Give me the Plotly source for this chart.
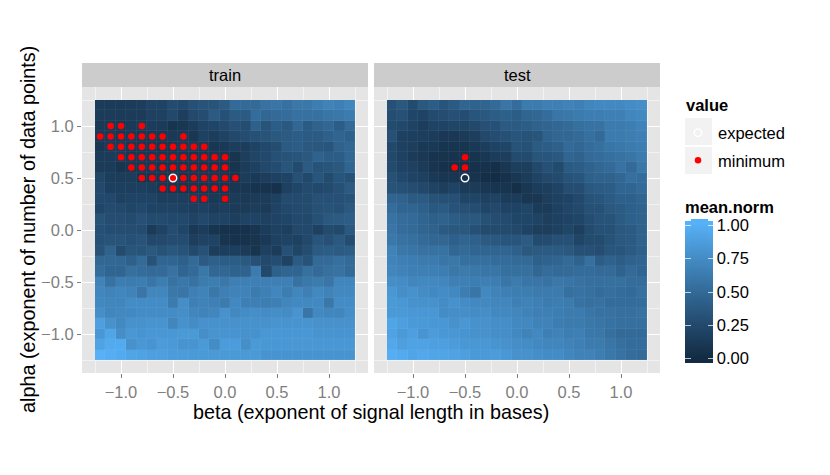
import plotly.graph_objects as go

W, H = 830, 475
betas = [round(-1.2 + i * 0.1, 1) for i in range(25)]
alphas = [round(1.2 - i * 0.1, 1) for i in range(25)]

train_values = [
    [.13,.13,.13,.13,.15,.20,.20,.27,.24,.30,.33,.33,.38,.50,.50,.50,.56,.58,.55,.60,.60,.64,.68,.66,.70],
    [.13,.13,.13,.13,.13,.18,.18,.24,.16,.25,.28,.38,.30,.38,.38,.52,.48,.50,.52,.55,.55,.55,.58,.60,.62],
    [.12,.12,.10,.12,.13,.14,.13,.08,.10,.14,.20,.22,.25,.30,.28,.42,.33,.40,.36,.48,.38,.44,.48,.40,.50],
    [.12,.12,.10,.12,.10,.10,.10,.12,.12,.10,.18,.15,.20,.24,.28,.30,.33,.36,.38,.40,.38,.38,.42,.46,.42],
    [.10,.13,.13,.10,.10,.10,.08,.08,.12,.13,.12,.10,.12,.15,.15,.20,.24,.28,.38,.40,.36,.35,.34,.44,.48],
    [.13,.13,.13,.10,.10,.10,.10,.10,.10,.08,.10,.10,.10,.08,.16,.22,.24,.30,.32,.34,.36,.44,.40,.40,.48],
    [.13,.13,.08,.10,.10,.10,.08,.08,.08,.08,.08,.08,.08,.08,.14,.18,.24,.27,.34,.26,.38,.32,.34,.36,.46],
    [.22,.15,.14,.14,.08,.08,.08,.08,.08,.08,.10,.10,.10,.08,.14,.12,.15,.18,.20,.30,.24,.34,.26,.34,.30],
    [.24,.17,.17,.17,.17,.14,.10,.08,.08,.08,.08,.08,.08,.10,.10,.07,.07,.05,.18,.22,.26,.24,.26,.30,.38],
    [.24,.24,.18,.20,.20,.20,.16,.17,.16,.14,.12,.12,.12,.13,.12,.13,.14,.18,.26,.26,.26,.30,.30,.30,.32],
    [.22,.26,.24,.22,.24,.20,.20,.20,.18,.16,.18,.14,.16,.13,.13,.15,.13,.20,.24,.26,.26,.30,.32,.30,.36],
    [.32,.28,.28,.26,.30,.26,.26,.24,.24,.20,.24,.20,.20,.16,.20,.20,.18,.20,.22,.25,.24,.30,.36,.38,.40],
    [.30,.28,.28,.28,.27,.13,.20,.28,.22,.12,.14,.08,.05,.05,.05,.08,.14,.18,.16,.24,.24,.18,.26,.24,.36],
    [.30,.33,.33,.30,.33,.24,.25,.27,.27,.16,.20,.20,.08,.06,.06,.08,.12,.18,.20,.18,.24,.34,.30,.36,.28],
    [.32,.44,.26,.34,.33,.36,.32,.35,.32,.25,.31,.15,.17,.17,.13,.08,.18,.14,.30,.22,.28,.38,.40,.38,.40],
    [.48,.48,.48,.42,.50,.32,.46,.46,.42,.50,.38,.42,.40,.40,.36,.30,.25,.28,.20,.38,.32,.50,.50,.54,.50],
    [.52,.46,.46,.54,.52,.50,.50,.56,.46,.50,.60,.48,.48,.44,.44,.62,.24,.42,.46,.46,.54,.50,.54,.56,.50],
    [.68,.56,.64,.62,.64,.58,.64,.56,.60,.56,.62,.64,.60,.66,.66,.66,.66,.66,.66,.56,.60,.62,.58,.70,.70],
    [.70,.68,.70,.68,.58,.70,.70,.60,.58,.66,.68,.60,.66,.68,.68,.62,.66,.70,.64,.70,.66,.72,.68,.72,.72],
    [.72,.70,.70,.74,.74,.74,.74,.62,.76,.66,.68,.66,.62,.72,.66,.66,.64,.66,.70,.72,.72,.72,.60,.74,.74],
    [.76,.70,.72,.72,.74,.74,.74,.74,.76,.70,.68,.70,.78,.72,.74,.76,.74,.76,.74,.80,.58,.72,.70,.70,.76],
    [.88,.78,.72,.78,.78,.80,.80,.70,.78,.74,.78,.78,.78,.78,.78,.78,.78,.80,.80,.80,.80,.78,.78,.78,.78],
    [.82,.92,.76,.82,.80,.82,.82,.82,.84,.84,.76,.80,.80,.80,.78,.78,.82,.82,.82,.82,.82,.80,.80,.80,.80],
    [.90,.96,.96,.78,.82,.80,.86,.84,.80,.80,.84,.74,.86,.86,.76,.84,.82,.82,.82,.82,.82,.82,.82,.82,.82],
    [1.0,.98,.96,.92,.90,.88,.88,.86,.86,.84,.84,.84,.84,.84,.84,.84,.80,.80,.80,.80,.80,.80,.80,.80,.80],
]

test_values = [
    [.30,.36,.26,.36,.40,.34,.38,.46,.44,.46,.50,.58,.52,.62,.62,.66,.66,.68,.66,.70,.72,.72,.72,.74,.76],
    [.28,.30,.22,.20,.26,.28,.30,.28,.34,.36,.40,.42,.40,.46,.48,.52,.58,.60,.62,.64,.64,.66,.66,.70,.72],
    [.26,.24,.20,.15,.20,.20,.22,.22,.24,.30,.30,.38,.38,.40,.44,.46,.48,.50,.54,.56,.56,.62,.62,.64,.68],
    [.30,.18,.17,.17,.14,.11,.11,.13,.16,.24,.28,.30,.34,.32,.34,.44,.48,.48,.50,.54,.50,.62,.62,.64,.66],
    [.24,.18,.16,.12,.12,.08,.08,.08,.12,.15,.20,.22,.32,.30,.38,.40,.42,.50,.48,.52,.54,.58,.60,.62,.64],
    [.24,.18,.13,.11,.07,.07,.07,.07,.07,.10,.14,.16,.26,.26,.34,.34,.36,.46,.44,.50,.52,.54,.56,.58,.62],
    [.26,.20,.18,.13,.08,.05,.04,.04,.05,.05,.03,.10,.16,.16,.24,.30,.26,.38,.40,.44,.48,.50,.56,.50,.60],
    [.30,.24,.20,.18,.12,.09,.09,.05,.07,.03,.02,.05,.10,.14,.20,.24,.26,.32,.34,.42,.44,.44,.48,.54,.52],
    [.32,.30,.28,.24,.20,.16,.20,.13,.13,.10,.08,.08,.03,.10,.14,.16,.20,.28,.28,.36,.38,.40,.46,.46,.50],
    [.46,.44,.38,.38,.32,.30,.30,.22,.22,.18,.20,.14,.14,.10,.10,.16,.18,.20,.24,.32,.34,.38,.42,.42,.46],
    [.52,.46,.46,.42,.36,.38,.32,.30,.28,.22,.24,.20,.20,.22,.13,.13,.18,.22,.24,.30,.30,.36,.38,.42,.44],
    [.56,.52,.50,.46,.42,.44,.40,.36,.36,.30,.28,.26,.22,.22,.20,.16,.18,.20,.22,.28,.32,.32,.38,.42,.44],
    [.58,.52,.50,.46,.44,.38,.36,.36,.30,.26,.26,.26,.24,.20,.16,.16,.18,.22,.16,.26,.30,.30,.36,.38,.44],
    [.60,.56,.54,.50,.48,.48,.42,.46,.42,.38,.36,.34,.34,.38,.26,.27,.30,.30,.22,.26,.26,.32,.36,.38,.44],
    [.68,.60,.58,.56,.56,.56,.48,.50,.46,.46,.46,.46,.42,.36,.38,.38,.38,.36,.30,.30,.28,.34,.34,.38,.42],
    [.68,.66,.64,.62,.62,.58,.60,.54,.54,.54,.52,.52,.50,.50,.42,.44,.46,.50,.44,.54,.40,.44,.40,.44,.46],
    [.70,.68,.66,.66,.66,.64,.60,.62,.60,.58,.58,.54,.54,.54,.48,.52,.50,.50,.52,.52,.50,.50,.44,.50,.46],
    [.76,.74,.70,.72,.72,.70,.66,.66,.64,.66,.64,.58,.62,.58,.58,.56,.60,.58,.56,.54,.54,.54,.54,.52,.52],
    [.82,.76,.78,.74,.72,.74,.72,.64,.58,.72,.68,.66,.64,.64,.62,.62,.62,.54,.56,.54,.52,.54,.52,.50,.54],
    [.84,.82,.78,.78,.78,.74,.78,.74,.72,.72,.70,.70,.66,.68,.66,.62,.64,.62,.56,.54,.56,.52,.52,.52,.52],
    [.84,.84,.82,.82,.82,.74,.76,.76,.74,.76,.72,.72,.70,.68,.66,.66,.64,.62,.62,.58,.56,.56,.54,.54,.56],
    [.92,.88,.84,.84,.82,.82,.78,.82,.78,.78,.76,.76,.72,.72,.68,.68,.64,.62,.62,.60,.58,.56,.54,.54,.54],
    [.90,.84,.88,.80,.86,.82,.82,.80,.78,.78,.76,.76,.72,.68,.72,.66,.68,.64,.66,.60,.60,.54,.50,.50,.50],
    [.94,.88,.90,.90,.88,.88,.86,.82,.82,.82,.80,.78,.76,.74,.72,.70,.70,.68,.66,.62,.62,.58,.54,.52,.52],
    [.98,.96,.92,.94,.92,.92,.90,.88,.84,.84,.86,.82,.78,.78,.76,.74,.74,.70,.68,.68,.64,.60,.56,.52,.50],
]
for grid in (train_values, test_values):
    assert len(grid) == 25 and all(len(r) == 25 for r in grid)

train_min_beta = [-1.1,-1.0,-.8,
    -1.2,-1.1,-1.0,-.9,-.8,-.7,-.6,-.4,
    -1.1,-1.0,-.9,-.8,-.7,-.6,-.5,-.4,-.3,-.2,
    -1.0,-.9,-.8,-.7,-.6,-.5,-.4,-.3,-.2,-.1,0.0,
    -.9,-.8,-.7,-.6,-.5,-.4,-.3,-.2,-.1,0.0,
    -.8,-.7,-.6,-.5,-.4,-.3,-.2,-.1,0.0,.1,
    -.6,-.5,-.4,-.3,-.2,-.1,0.0,
    -.3,-.2,0.0]
train_min_alpha = [1.0]*3 + [.9]*8 + [.8]*10 + [.7]*11 + [.6]*10 + [.5]*10 + [.4]*7 + [.3]*3
test_min_beta = [-.5, -.6, -.5]
test_min_alpha = [.7, .6, .6]
expected_beta = [-.5]
expected_alpha = [.5]
axis_ticks = [-1.0, -0.5, 0.0, 0.5, 1.0]
bar_ticks = [0.0, 0.25, 0.5, 0.75, 1.0]
BAR_MIN, BAR_MAX = -0.033, 1.033

def lab(c):
    rgb = [int(c[i:i+2], 16) / 255 for i in (1, 3, 5)]
    r, g, b = [v / 12.92 if v <= .04045 else ((v + .055) / 1.055) ** 2.4 for v in rgb]
    x = (.4124*r + .3576*g + .1805*b) / .95047
    y = .2126*r + .7152*g + .0722*b
    z = (.0193*r + .1192*g + .9505*b) / 1.08883
    f = lambda t: t ** (1/3) if t > .008856 else 7.787*t + 16/116
    return 116*f(y) - 16, 500*(f(x) - f(y)), 200*(f(y) - f(z))

def lab_hex(L, a, b):
    fy = (L + 16) / 116
    fi = lambda t: t**3 if t**3 > .008856 else (t - 16/116) / 7.787
    x, y, z = fi(fy + a/500) * .95047, fi(fy), fi(fy - b/200) * 1.08883
    lin = (3.2406*x - 1.5372*y - .4986*z, -.9689*x + 1.8758*y + .0415*z, .0557*x - .2040*y + 1.0570*z)
    out = [12.92*v if v <= .0031308 else 1.055*v**(1/2.4) - .055 for v in lin]
    return "#" + "".join(f"{round(min(max(v, 0), 1) * 255):02x}" for v in out)

lo, hi = lab("#132B43"), lab("#56B1F7")
pos = lambda v: (v - BAR_MIN) / (BAR_MAX - BAR_MIN)
colorscale = [[0, "#132B43"]]
for i in range(11):
    t = i / 10
    colorscale.append([pos(t), lab_hex(*[l + (h - l) * t for l, h in zip(lo, hi)])])
colorscale.append([1, "#56B1F7"])

FONT = "Liberation Sans"
SIZE = 16.5
px = lambda x: x / W
py = lambda y: 1 - y / H
PANEL_T, PANEL_B = 87, 373
STRIP_T = 63
P1 = (82, 368)
P2 = (374, 660)
RNG = [-1.375, 1.375]
GAP = 0.05

fig = go.Figure()
# Outer bar: full-width white ticks; inner bar (from the second heatmap) covers their middle,
# which leaves the short stubs on both edges of the key.
fig.add_trace(go.Heatmap(x=betas, y=alphas, z=train_values, xaxis="x", yaxis="y", xgap=GAP, ygap=GAP,
    colorscale=colorscale, zmin=BAR_MIN, zmax=BAR_MAX, showscale=True,
    colorbar=dict(lenmode="pixels", len=165, thicknessmode="pixels", thickness=28,
        x=px(685), xanchor="left", xpad=0, y=py(198), yanchor="top", yref="paper", ypad=0,
        outlinewidth=0, tickmode="array", tickvals=bar_ticks,
        ticktext=[f"{v:.2f}" for v in bar_ticks], ticks="inside", ticklen=28, tickwidth=1,
        tickcolor="rgba(255,255,255,0.7)",
        tickfont=dict(family=FONT, size=SIZE, color="#000000"),
        title=dict(text="<b>mean.norm</b>", side="top", font=dict(family=FONT, size=SIZE, color="#000000")))))
fig.add_trace(go.Heatmap(x=betas, y=alphas, z=test_values, xaxis="x2", yaxis="y2", xgap=GAP, ygap=GAP,
    colorscale=colorscale, zmin=BAR_MIN, zmax=BAR_MAX, showscale=True,
    colorbar=dict(lenmode="pixels", len=144, thicknessmode="pixels", thickness=17,
        x=px(690.5), xanchor="left", xpad=0, y=py(219), yanchor="top", yref="paper", ypad=0,
        outlinewidth=0, ticks="", showticklabels=False)))

dot = dict(color="#FF0000", size=6.5)
ring = dict(color="rgba(0,0,0,0)", size=7.5, line=dict(color="#FFFFFF", width=1.4))
fig.add_trace(go.Scatter(x=train_min_beta, y=train_min_alpha, mode="markers", marker=dot,
    xaxis="x", yaxis="y", name="minimum", legendgroup="min", legendrank=2))
fig.add_trace(go.Scatter(x=test_min_beta, y=test_min_alpha, mode="markers", marker=dot,
    xaxis="x2", yaxis="y2", name="minimum", legendgroup="min", showlegend=False))
fig.add_trace(go.Scatter(x=expected_beta, y=expected_alpha, mode="markers", marker=ring,
    xaxis="x", yaxis="y", name="expected", legendgroup="exp", legendrank=1))
fig.add_trace(go.Scatter(x=expected_beta, y=expected_alpha, mode="markers", marker=ring,
    xaxis="x2", yaxis="y2", name="expected", legendgroup="exp", showlegend=False))

def axis(domain, **kw):
    base = dict(domain=domain, range=RNG, tickmode="array", tickvals=axis_ticks,
        tickformat=".1f", showgrid=True, gridcolor="#FFFFFF", gridwidth=1.3,
        zeroline=False, showline=False, ticks="outside", ticklen=4, tickwidth=1, tickcolor="#7F7F7F",
        tickfont=dict(family=FONT, size=SIZE, color="#7F7F7F"),
        minor=dict(tickmode="array", tickvals=[-1.25, -.75, -.25, .25, .75, 1.25], showgrid=True,
                   gridcolor="#F2F2F2", gridwidth=0.7, ticks=""))
    base.update(kw)
    return base

ydom = [py(PANEL_B), py(PANEL_T)]
shapes = []
for x0, x1 in (P1, P2):
    shapes.append(dict(type="rect", xref="paper", yref="paper", x0=px(x0), x1=px(x1),
        y0=py(87), y1=py(STRIP_T), fillcolor="#CCCCCC", line_width=0, layer="below"))
for y0 in (118, 147):
    shapes.append(dict(type="rect", xref="paper", yref="paper", x0=px(685), x1=px(712),
        y0=py(y0 + 27), y1=py(y0), fillcolor="#F2F2F2", line_width=0, layer="below"))

ann = [
    dict(text="train", x=px(225), y=py(75)),
    dict(text="test", x=px(517), y=py(75)),
    dict(text="beta (exponent of signal length in bases)", x=px(371), y=py(412), size=19.8),
    dict(text="alpha (exponent of number of data points)", x=px(28), y=py(230), size=19.8, textangle=-90),
    dict(text="<b>value</b>", x=px(683.5), y=py(105), xanchor="left"),
]
annotations = [dict(xref="paper", yref="paper", showarrow=False, text=a["text"], x=a["x"], y=a["y"],
    xanchor=a.get("xanchor", "center"), yanchor="middle", textangle=a.get("textangle", 0),
    font=dict(family=FONT, size=a.get("size", SIZE), color="#000000")) for a in ann]

fig.update_layout(
    width=W, height=H, autosize=False, margin=dict(l=0, r=0, t=0, b=0),
    paper_bgcolor="#FFFFFF", plot_bgcolor="#E5E5E5",
    font=dict(family=FONT),
    xaxis=axis([px(P1[0]), px(P1[1])], anchor="y"),
    yaxis=axis(ydom, anchor="x"),
    xaxis2=axis([px(P2[0]), px(P2[1])], anchor="y2"),
    yaxis2=axis(ydom, anchor="x2", showticklabels=False, ticks=""),
    shapes=shapes, annotations=annotations,
    legend=dict(x=px(678), xanchor="left", y=py(115.5), yanchor="top", bgcolor="rgba(0,0,0,0)",
        tracegroupgap=3, itemclick=False, font=dict(family=FONT, size=SIZE, color="#000000")),
    showlegend=True,
)

fig.write_html("out.html", config={"displayModeBar": False}, post_script="document.body.style.margin='0';")
